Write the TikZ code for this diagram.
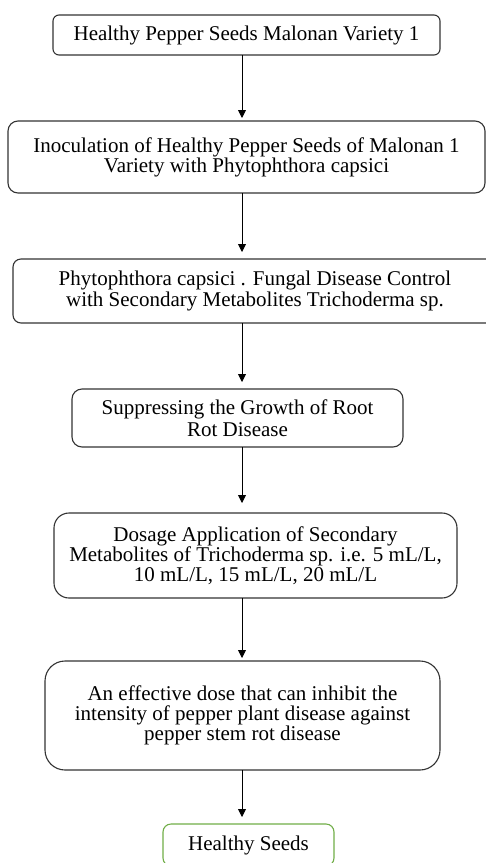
\documentclass[tikz,border=0pt]{standalone}
\usepackage{fontspec}
\setmainfont{Liberation Serif}
\usetikzlibrary{arrows.meta}
\tikzset{
	stepbox/.style={draw=black!80, line width=1.1pt, inner sep=0pt, outer sep=0pt, align=center},
	flow/.style={draw=black, line width=0.9pt, -{Triangle[width=8pt,length=8pt]}}
}
\def\boxfont#1{\fontsize{21}{#1}\selectfont}

\begin{document}
\begin{tikzpicture}[x=1pt, y=-1pt]
		%%%%% START %%%%%
		\useasboundingbox (0,0) rectangle (486,863);
		\coordinate (axis) at (242,0);
		
		\node[stepbox, rounded corners=6pt, minimum width=387pt, minimum height=40pt, font=\boxfont{20}] (seeds) at (246.5,35) {Healthy Pepper Seeds Malonan Variety 1};
		\node[stepbox, rounded corners=10pt, minimum width=477pt, minimum height=72pt, font=\boxfont{18.5}] (inoc) at (246.5,157) {Inoculation of Healthy Pepper Seeds of Malonan 1\\Variety with Phytophthora capsici};
		\node[stepbox, rounded corners=8pt, minimum width=484pt, minimum height=64pt, font=\boxfont{16}] (control) at (255,291) {Phytophthora capsici . Fungal Disease Control\\with Secondary Metabolites Trichoderma sp.};
		\node[stepbox, rounded corners=10pt, minimum width=331pt, minimum height=58pt, font=\boxfont{22}] (suppress) at (237.5,418) {Suppressing the Growth of Root\\Rot Disease};
		\node[stepbox, rounded corners=15pt, minimum width=403pt, minimum height=85pt, font=\boxfont{20}] (dosage) at (255.5,555.5) {Dosage Application of Secondary\\Metabolites of Trichoderma sp. i.e. 5 mL/L,\\10 mL/L, 15 mL/L, 20 mL/L};
		\node[stepbox, rounded corners=20pt, minimum width=395pt, minimum height=109pt, font=\boxfont{20}] (dose) at (242.5,715.5) {An effective dose that can inhibit the\\intensity of pepper plant disease against\\pepper stem rot disease};
		\node[stepbox, draw={rgb,255:red,112;green,173;blue,71}, rounded corners=8pt, minimum width=171pt, minimum height=42pt, font=\boxfont{20}] (healthy) at (248.5,845) {Healthy Seeds};
		
		%% arrows down the middle
		\draw[flow, shorten >=3pt] (seeds.south -| axis) -- (inoc.north -| axis);
		\draw[flow, shorten >=7pt] (inoc.south -| axis) -- (control.north -| axis);
		\draw[flow, shorten >=7pt] (control.south -| axis) -- (suppress.north -| axis);
		\draw[flow, shorten >=10pt] (suppress.south -| axis) -- (dosage.north -| axis);
		\draw[flow, shorten >=3pt] (dosage.south -| axis) -- (dose.north -| axis);
		\draw[flow, shorten >=7pt] (dose.south -| axis) -- (healthy.north -| axis);
		
		%%%%% END %%%%%
\end{tikzpicture}
\end{document}
